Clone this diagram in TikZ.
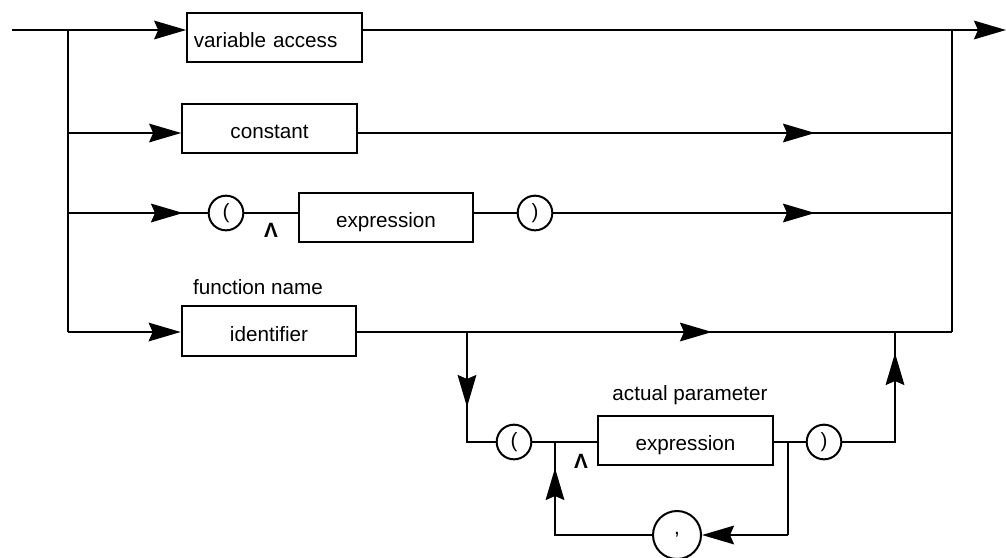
\documentclass[tikz,border=0pt]{standalone}
\usepackage{fontspec}
\setmainfont{Liberation Sans}
\usetikzlibrary{arrows.meta}
\begin{document}
\begin{tikzpicture}[x=0.75pt,y=-0.75pt,line width=1.5pt,
  arr/.style={-{Stealth[length=24pt,width=14pt,inset=3pt]}},
  txt/.style={font=\fontsize{15.5}{18}\selectfont},
  box/.style={txt,draw,minimum width=131pt,minimum height=37pt,inner sep=0pt,text height=15pt,text depth=0pt},
  term/.style={txt,draw,circle,minimum size=26pt,inner sep=0pt},
  lbl/.style={txt,inner sep=0pt},
  caret/.style={font=\bfseries\fontsize{15.5}{18}\selectfont,inner sep=0pt}]
\useasboundingbox (0,0) rectangle (1006,557);
% coordinates
\coordinate (s) at (12,30);
\coordinate (j1) at (68,30);
\coordinate (j2) at (68,133);
\coordinate (j3) at (68,213);
\coordinate (j4) at (68,332);
\coordinate (e1) at (952,30);
\coordinate (fin) at (1006,30);
\coordinate (m2) at (815,133);
\coordinate (r2) at (952,133);
\coordinate (a3) at (183,213);
\coordinate (m3) at (815,213);
\coordinate (r3) at (952,213);
\coordinate (m4) at (712,332);
\coordinate (r4) at (952,332);
\coordinate (b) at (467,332);
\coordinate (bd) at (467,407);
\coordinate (bc) at (467,442);
\coordinate (jl) at (555,442);
\coordinate (jr) at (788,442);
\coordinate (rc) at (895,442);
\coordinate (ru) at (895,353);
\coordinate (rt) at (895,332);
\coordinate (lr) at (788,535);
\coordinate (ll) at (555,535);
\coordinate (lu) at (555,468);
% nodes
\node[box,align=left,text width=121pt] (va) at (274.5,37.5) {variable access};
\node[box] (con) at (269.5,128.5) {constant};
\node[term] (lp1) at (226,213) {(};
\node[caret] (c1) at (271,230) {Λ};
\node[box] (expr1) at (386,217.5) {expression};
\node[term] (rp1) at (535,213) {)};
\node[lbl] (fn) at (258,287) {function name};
\node[box] (ident) at (269,331) {identifier};
\node[term] (lp2) at (514,442) {(};
\node[caret] (c2) at (581,461) {Λ};
\node[lbl] (ap) at (690,395) {actual parameter};
\node[box] (expr2) at (685.5,440.5) {expression};
\node[term] (rp2) at (824,442) {)};
\node[term,minimum size=36pt] (comma) at (677,535) {,};
% row 1
\draw (s) -- (j1);
\draw[arr] (j1) -- (va.west |- j1);
\draw (va.east |- j1) -- (e1);
\draw[arr] (e1) -- (fin);
% verticals
\draw (j1) -- (j4);
\draw (e1) -- (r4);
% row 2
\draw[arr] (j2) -- (con.west |- j2);
\draw (con.east |- j2) -- (r2);
\draw[arr] (con.east |- j2) -- (m2);
% row 3
\draw (j3) -- (lp1);
\draw[arr] (j3) -- (a3);
\draw (lp1) -- (expr1.west |- lp1);
\draw (expr1.east |- rp1) -- (rp1);
\draw (rp1) -- (r3);
\draw[arr] (rp1) -- (m3);
% row 4
\draw[arr] (j4) -- (ident.west |- j4);
\draw (ident.east |- j4) -- (r4);
\draw[arr] (ident.east |- j4) -- (m4);
% parameter list
\draw (b) -- (bc) -- (lp2);
\draw[arr] (b) -- (bd);
\draw (lp2) -- (expr2.west |- jl);
\draw (expr2.east |- jr) -- (rp2);
\draw (rp2) -- (rc) -- (rt);
\draw[arr] (rc) -- (ru);
\draw (jr) -- (lr);
\draw[arr] (lr) -- (comma.east);
\draw (comma.west) -- (ll) -- (jl);
\draw[arr] (ll) -- (lu);
\end{tikzpicture}
\end{document}
